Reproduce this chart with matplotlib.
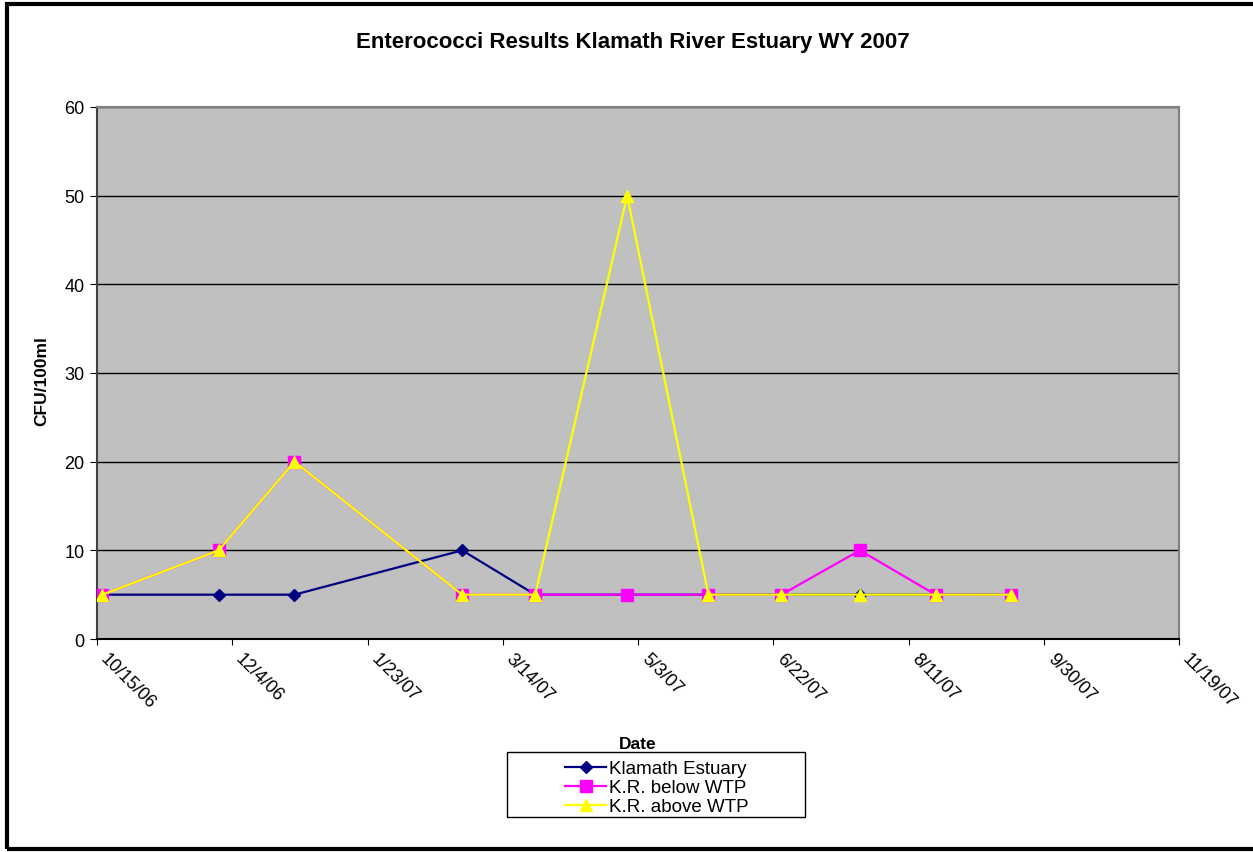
import matplotlib
matplotlib.use('Agg')
import matplotlib.pyplot as plt
from matplotlib.patches import Rectangle
import datetime as dt

plt.rcParams['font.family'] = ['Liberation Sans', 'DejaVu Sans']

# Sample dates and results (CFU/100ml)
dates = ['2006-10-17', '2006-11-29', '2006-12-27', '2007-02-27', '2007-03-26',
         '2007-04-29', '2007-05-29', '2007-06-25', '2007-07-24', '2007-08-21',
         '2007-09-18']
estuary = [5, 5, 5, 10, 5, 5, 5, 5, 5, 5, 5]
below_wtp = [5, 10, 20, 5, 5, 5, 5, 5, 10, 5, 5]
above_wtp = [5, 10, 20, 5, 5, 50, 5, 5, 5, 5, 5]

x = [dt.datetime.strptime(d, '%Y-%m-%d') for d in dates]

fig = plt.figure(figsize=(12.53, 8.53), dpi=100)
ax = fig.add_axes([0.0774, 0.2497, 0.8636, 0.6237])
ax.set_facecolor('#C0C0C0')

ax.plot(x, estuary, color='#000080', marker='D', markersize=6, linewidth=1.6,
        label='Klamath Estuary', zorder=3)
ax.plot(x, below_wtp, color='#FF00FF', marker='s', markersize=8, linewidth=1.6,
        label='K.R. below WTP', zorder=4)
ax.plot(x, above_wtp, color='#FFFF00', marker='^', markersize=8, linewidth=1.6,
        label='K.R. above WTP', zorder=5)

# x axis: every 50 days from 10/15/06
start = dt.datetime(2006, 10, 15)
ticks = [start + dt.timedelta(days=50 * i) for i in range(9)]
ax.set_xlim(ticks[0], ticks[-1])
ax.set_xticks(ticks)
ax.set_xticklabels([f'{t.month}/{t.day}/{t.strftime("%y")}' for t in ticks],
                   rotation=-45, ha='left', va='bottom', rotation_mode='anchor',
                   fontsize=13)
ax.set_ylim(0, 60)
ax.set_yticks(range(0, 61, 10))
ax.tick_params(axis='y', labelsize=13, direction='out', length=5, pad=4)
ax.tick_params(axis='x', direction='out', length=4, pad=12.5)
ax.grid(axis='y', color='black', linewidth=1)
ax.set_axisbelow(True)
for s in ax.spines.values():
    s.set_color('#808080')
    s.set_linewidth(1.5)
ax.spines['bottom'].set_color('black')
ax.spines['left'].set_color('#404040')

fig.text(0.505, 0.9496, 'Enterococci Results Klamath River Estuary WY 2007',
         ha='center', va='center', fontsize=16, fontweight='bold')
fig.text(0.0335, 0.553, 'CFU/100ml', rotation=90, ha='center', va='center',
         fontsize=12.5, fontweight='bold')
fig.text(0.509, 0.127, 'Date', ha='center', va='center', fontsize=12.5,
         fontweight='bold')

leg = fig.legend(loc='upper left', bbox_to_anchor=(565 / 1253, 1 - 761 / 853),
                 fontsize=13.5, frameon=False, handlelength=2.2,
                 handletextpad=0.15, borderpad=0, labelspacing=0.1,
                 borderaxespad=0)
fig.add_artist(Rectangle((507 / 1253, 1 - 818 / 853), 298 / 1253, 65 / 853,
                         transform=fig.transFigure, fill=False,
                         edgecolor='black', linewidth=1))

# outer chart border
fig.add_artist(Rectangle((0.0052, 0.0035), 1.2, 0.9906, transform=fig.transFigure,
                         fill=False, edgecolor='black', linewidth=3))

fig.savefig('out.png', dpi=100)
